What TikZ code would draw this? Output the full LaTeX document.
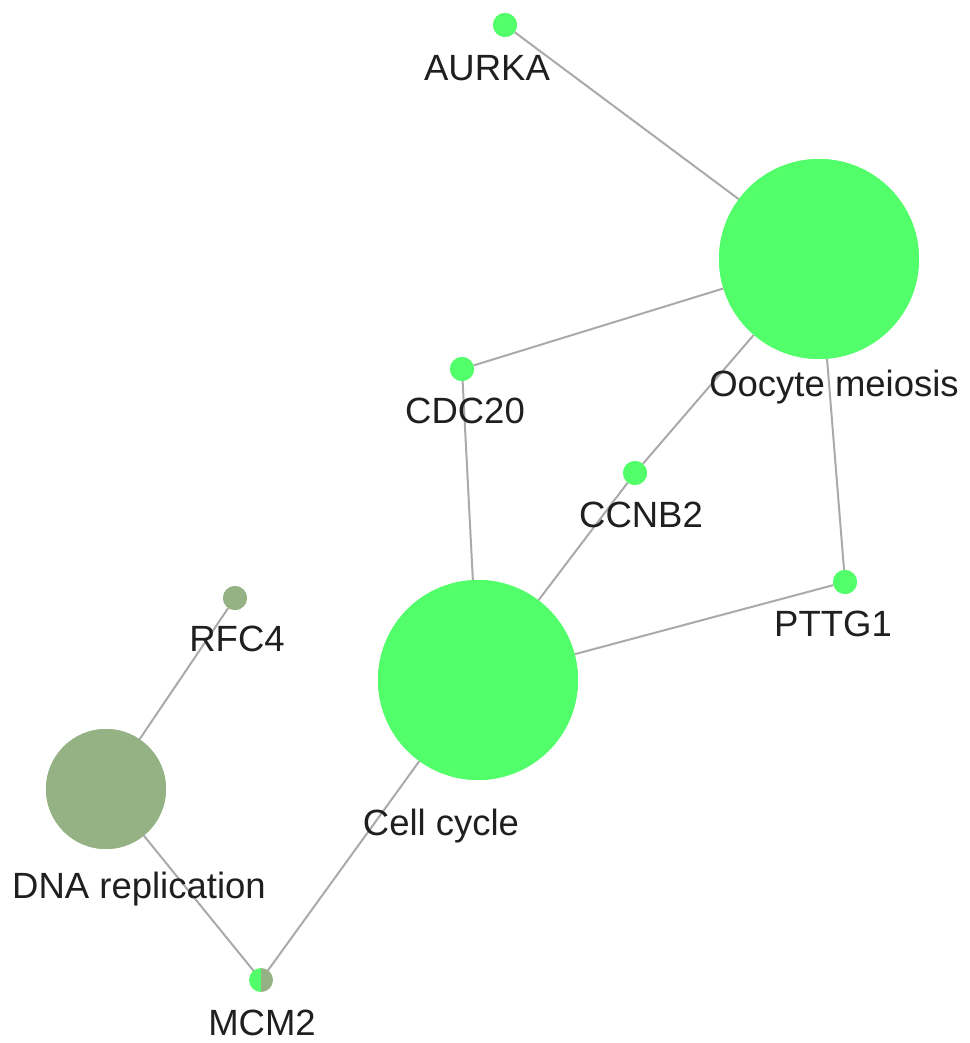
\documentclass[tikz,border=0pt]{standalone}
\usepackage{fontspec}
\setmainfont{Liberation Sans}
\definecolor{gnode}{RGB}{82,255,106}
\definecolor{onode}{RGB}{148,178,131}
\definecolor{edgec}{RGB}{170,170,170}
\begin{document}
\begin{tikzpicture}[x=1pt,y=-1pt,
  gene/.style={circle,fill=gnode,inner sep=0pt,minimum size=24pt},
  path/.style={circle,fill=gnode,inner sep=0pt,minimum size=200pt},
  lab/.style={font=\fontsize{36.5}{40}\selectfont,text=black!88,inner sep=0pt},
  edge/.style={draw=edgec,line width=2pt}]
\useasboundingbox (0,0) rectangle (969,1043);
% nodes
\node[gene] (aurka) at (505,25) {};
\node[path] (oocyte) at (819,259) {};
\node[gene] (cdc20) at (462,369) {};
\node[gene] (ccnb2) at (635,473) {};
\node[gene] (pttg1) at (845,582) {};
\node[path] (cell) at (478,680) {};
\node[gene,fill=onode] (rfc4) at (235,598) {};
\node[circle,fill=onode,inner sep=0pt,minimum size=120pt] (dna) at (106,789) {};
\coordinate (mcm2) at (261,980);
% edges
\draw[edge] (aurka) -- (oocyte);
\draw[edge] (oocyte) -- (cdc20);
\draw[edge] (oocyte) -- (ccnb2);
\draw[edge] (oocyte) -- (pttg1);
\draw[edge] (cdc20) -- (cell);
\draw[edge] (ccnb2) -- (cell);
\draw[edge] (pttg1) -- (cell);
\draw[edge] (cell) -- (mcm2);
\draw[edge] (dna) -- (mcm2);
\draw[edge] (dna) -- (rfc4);
% redraw nodes on top of edges
\fill[gnode] (aurka) circle (12);
\fill[gnode] (oocyte) circle (100);
\fill[gnode] (cdc20) circle (12);
\fill[gnode] (ccnb2) circle (12);
\fill[gnode] (pttg1) circle (12);
\fill[gnode] (cell) circle (100);
\fill[onode] (rfc4) circle (12);
\fill[onode] (dna) circle (60);
\begin{scope}
\clip (248,966) rectangle (261,994);
\fill[gnode] (mcm2) circle (12);
\end{scope}
\begin{scope}
\clip (261,966) rectangle (274,994);
\fill[onode] (mcm2) circle (12);
\end{scope}
% labels
\node[lab] (laurka) at (487,68) {AURKA};
\node[lab] (loocyte) at (834,387) {Oocyte meiosis};
\node[lab] (lcdc20) at (465,411) {CDC20};
\node[lab] (lccnb2) at (641,515) {CCNB2};
\node[lab] (lpttg1) at (833,624) {PTTG1};
\node[lab] (lcell) at (441,826) {Cell cycle};
\node[lab] (lrfc4) at (237,639) {RFC4};
\node[lab] (ldna) at (139,889) {DNA replication};
\node[lab] (lmcm2) at (262,1023) {MCM2};
\end{tikzpicture}
\end{document}
